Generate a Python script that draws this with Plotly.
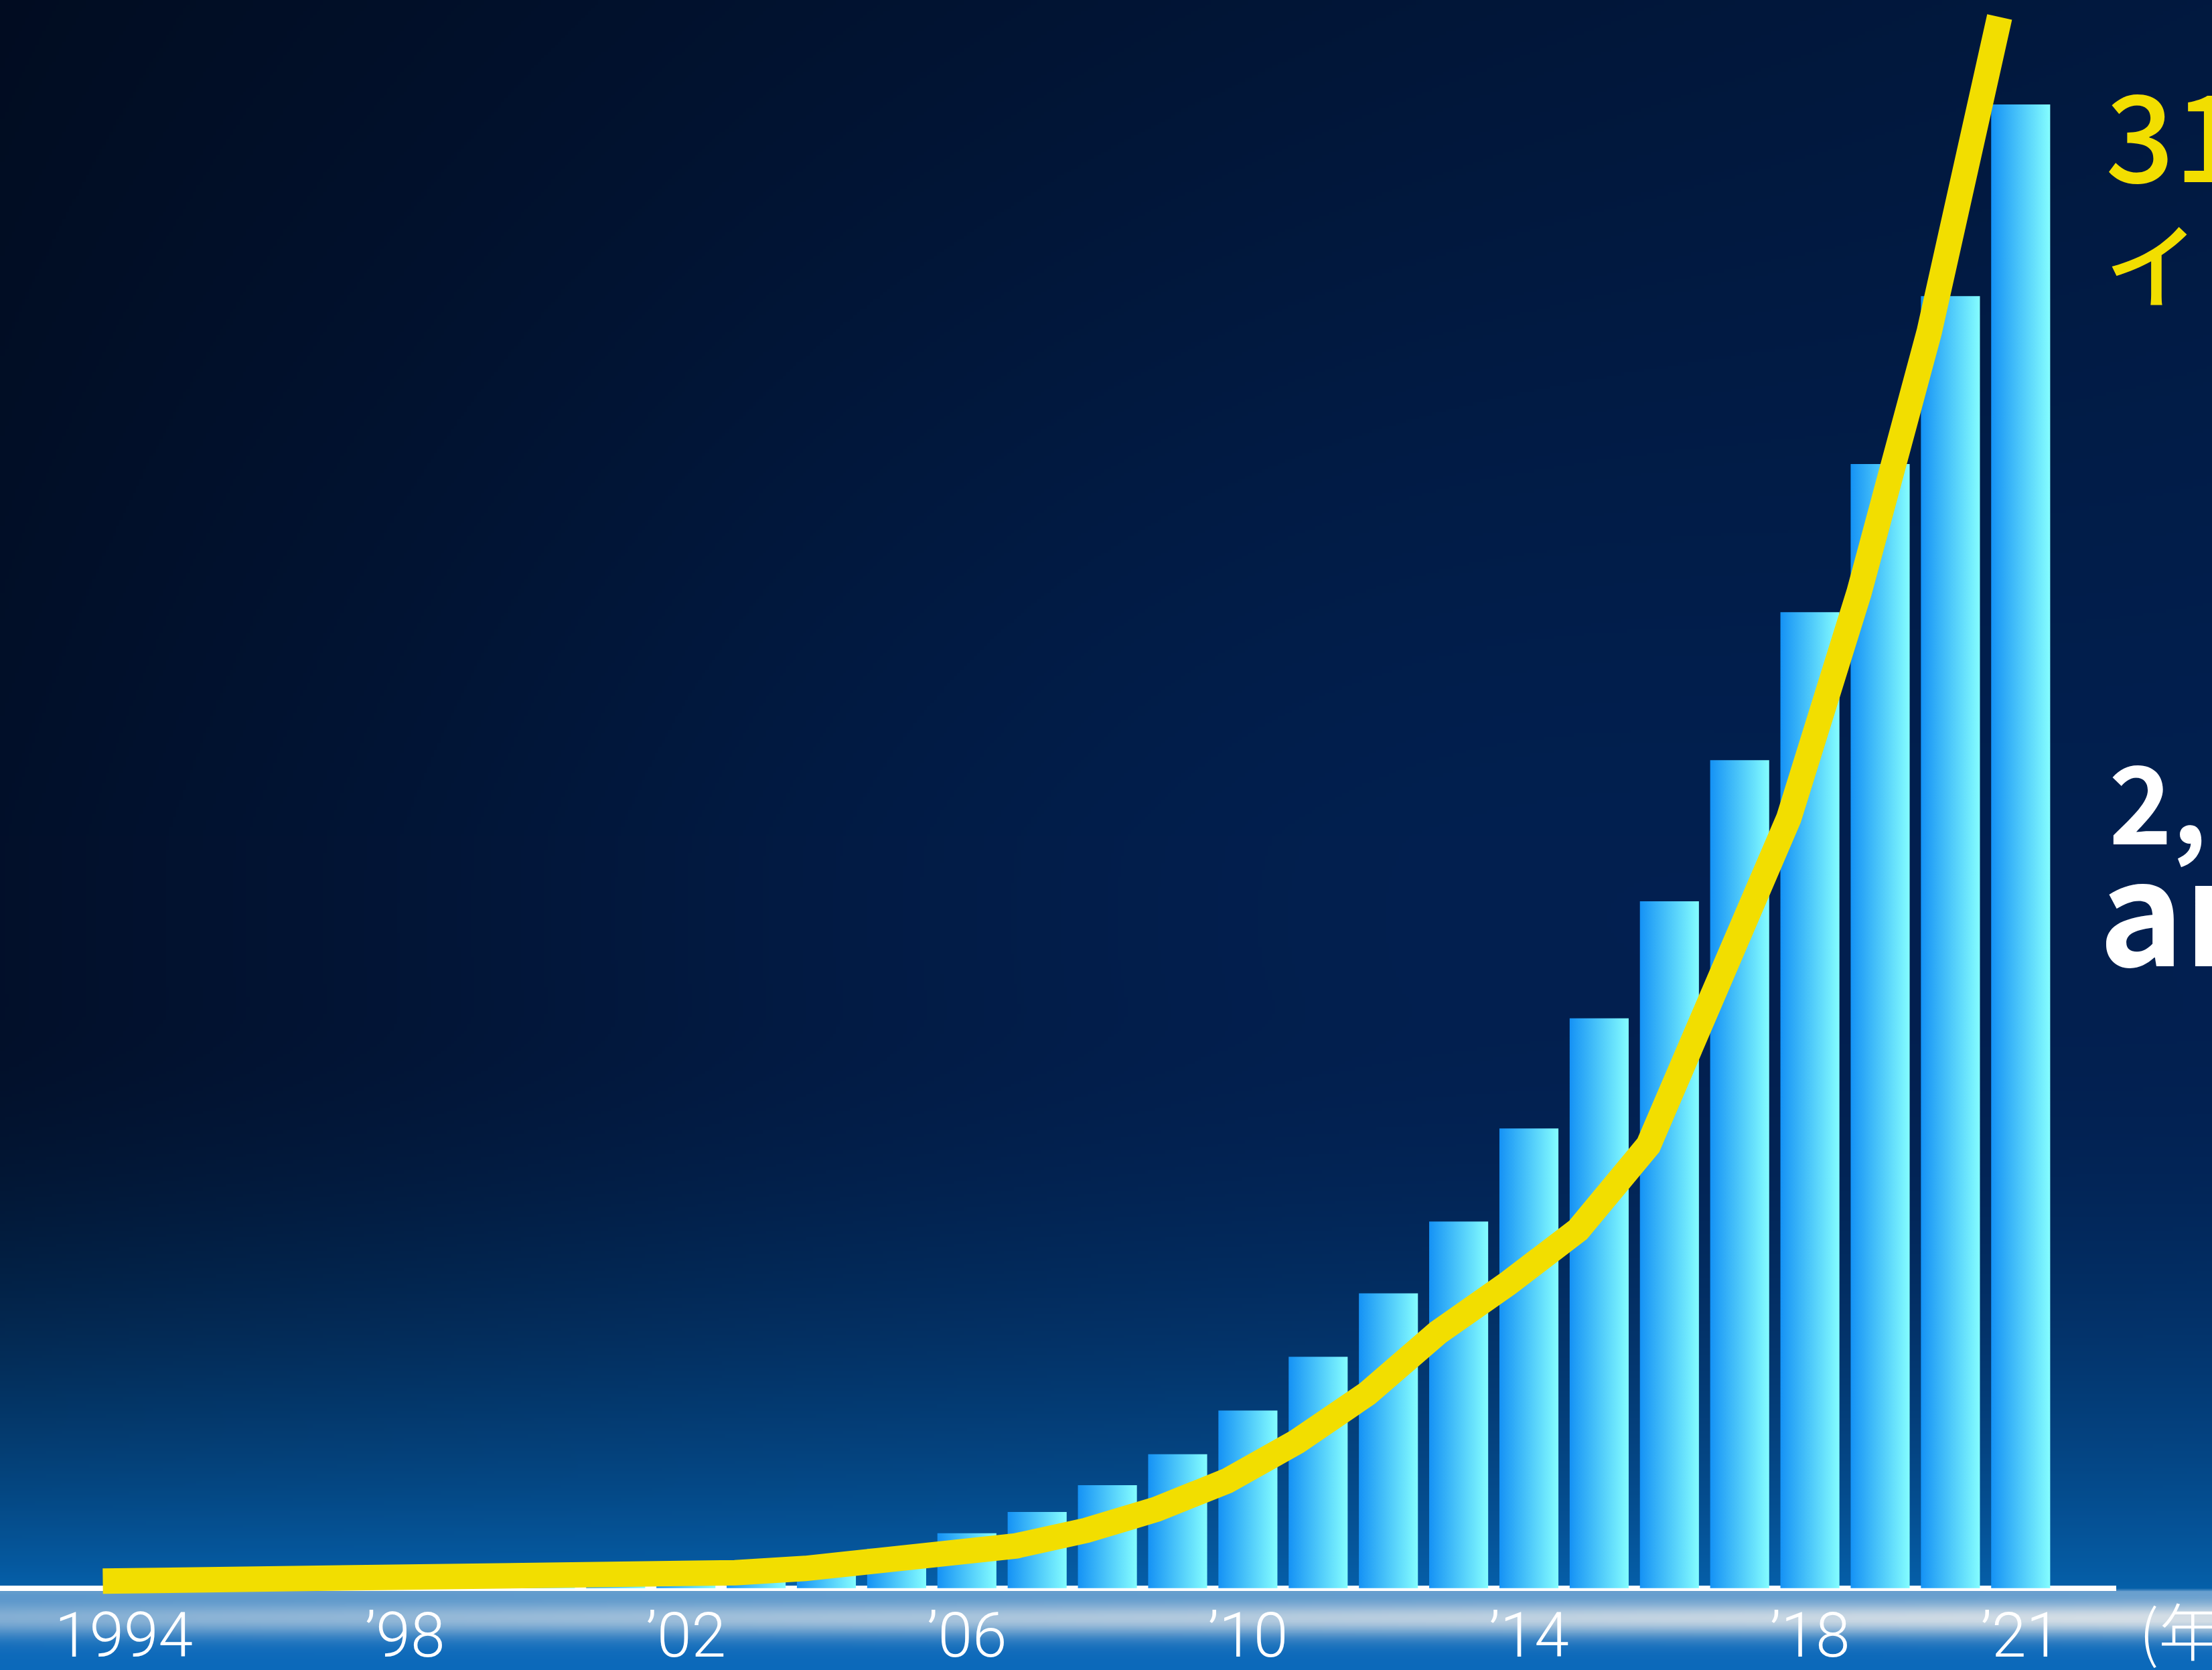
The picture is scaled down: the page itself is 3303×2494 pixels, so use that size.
import base64
import struct
import zlib

import numpy as np
import plotly.graph_objects as go

# ---------------- data ----------------
years = list(range(1994, 2022))
bar_values = [0.3, 0.5, 0.7, 1, 1.5, 2, 3, 4, 6, 9, 14, 28, 39, 54, 73, 95, 126,
              164, 209, 260, 326, 404, 487, 587, 692, 797, 916, 1052]
line_values = [5, 5.2, 5.5, 6, 6.5, 7, 7.5, 8, 9, 11, 14, 18, 23, 30, 41, 56, 76,
               104, 138, 181, 216, 254, 314, 431, 546, 706, 891, 1114]
tick_years = [1994, 1998, 2002, 2006, 2010, 2014, 2018, 2021]
tick_labels = ["1994", "’98", "’02", "’06", "’10", "’14", "’18", "’21"]

# ---------------- canvas ----------------
W, H = 3303, 2494
BASE_PX = 2372            # baseline position (px from top)
BAR_HALF = 0.42
LINE_SHIFT = -0.3
YELLOW = "#F2DE00"


def make_background(w=660, h=500):
    u = (np.arange(w) + 0.5) / w
    v = (np.arange(h) + 0.5) / h
    U, V = np.meshgrid(u, v)
    ypx = V * H
    left = np.array([2, 15, 40], float)
    right = np.array([2, 30, 76], float)
    f = (U ** 0.9)[..., None]
    col = left * (1 - f) + right * f
    col *= (0.82 + 0.18 * np.clip(V / 0.5, 0, 1))[..., None]
    rad = np.exp(-(((U - 0.55) ** 2) / 0.15 + ((V - 0.55) ** 2) / 0.2))
    col += rad[..., None] * np.array([0, 7, 16], float)
    vb = BASE_PX / H
    t = (np.clip((V - 0.60) / (vb - 0.60), 0, 1) ** 2.0)[..., None]
    glow = np.array([6, 96, 170], float)
    col = col * (1 - t) + glow * t
    # below baseline: light horizon band then bright blue
    d = ypx - (BASE_PX + 4)
    below = d > 0
    deep = np.array([10, 104, 186], float)
    light = np.array([212, 222, 230], float)
    amp = 0.5 + 0.42 * U
    band = amp * np.exp(-((d - 42) / 26.0) ** 2) + 0.42 * np.exp(-np.clip(d, 0, None) / 30.0)
    band = np.clip(band, 0, 1)[..., None]
    bcol = deep * (1 - band) + light * band
    col = np.where(below[..., None], bcol, col)
    arr = np.clip(col, 0, 255).astype(np.uint8)

    raw = b"".join(b"\x00" + arr[i].tobytes() for i in range(h))

    def chunk(tag, data):
        c = struct.pack(">I", len(data)) + tag + data
        return c + struct.pack(">I", zlib.crc32(tag + data) & 0xFFFFFFFF)

    png = (b"\x89PNG\r\n\x1a\n"
           + chunk(b"IHDR", struct.pack(">IIBBBBB", w, h, 8, 2, 0, 0, 0))
           + chunk(b"IDAT", zlib.compress(raw, 9))
           + chunk(b"IEND", b""))
    return "data:image/png;base64," + base64.b64encode(png).decode()


fig = go.Figure()

# gradient bars
for yr, val in zip(years, bar_values):
    x0, x1 = yr - BAR_HALF, yr + BAR_HALF
    fig.add_trace(go.Scatter(
        x=[x0, x1, x1, x0, x0], y=[0, 0, val, val, 0],
        mode="lines", fill="toself", line=dict(width=0),
        fillcolor="#4cc6fa",
        fillgradient=dict(type="horizontal", start=x0, stop=x1,
                          colorscale=[[0, "#1592f5"], [1, "#84fdff"]]),
        hoverinfo="skip", showlegend=False))

# yellow curve
fig.add_trace(go.Scatter(
    x=[y + LINE_SHIFT for y in years], y=line_values, mode="lines",
    line=dict(color=YELLOW, width=38), hoverinfo="skip", showlegend=False))

x_left = 1994 - 185 / 104.9
x_right = x_left + 3160 / 104.9
y_top = 1126
y_low = -58

fig.update_layout(
    width=W, height=H, autosize=False,
    margin=dict(l=0, r=0, t=0, b=0, pad=0, autoexpand=False),
    paper_bgcolor="#02163d", plot_bgcolor="rgba(0,0,0,0)",
    images=[dict(source=make_background(), xref="paper", yref="paper",
                 x=0, y=1, sizex=1, sizey=1, xanchor="left", yanchor="top",
                 sizing="stretch", layer="below")],
    xaxis=dict(range=[x_left, x_right], domain=[0, 3160 / W], anchor="free",
               position=(H - BASE_PX) / H, showgrid=False, zeroline=False,
               showline=True, linecolor="white", linewidth=8, layer="below traces",
               tickmode="array", tickvals=tick_years, ticktext=tick_labels,
               ticks="", ticklabelstandoff=-14,
               tickfont=dict(family="Roboto, Lato, sans-serif", size=93,
                             color="white", weight=300)),
    yaxis=dict(range=[y_low, y_top], visible=False, showgrid=False, zeroline=False),
    showlegend=False,
)

ann = [
    ("31", 3142, 194, 180, YELLOW, 500),
    ("イ", 3141, 389, 140, YELLOW, 500),
    ("2,", 3147, 1191, 160, "white", 600),
    ("ar", 3132, 1349, 215, "white", 700),
    ("(年)", 3192, 2432, 93, "white", 300),
]
for text, px, py, size, color, weight in ann:
    fig.add_annotation(
        text=text, xref="paper", yref="paper", x=px / W, y=1 - py / H,
        xanchor="left", yanchor="middle", showarrow=False,
        font=dict(family="Noto Sans CJK JP, Noto Sans, sans-serif", size=size,
                  color=color, weight=weight))

fig.write_html(
    "out.html",
    config={"displayModeBar": False},
    post_script="document.body.style.margin='0';"
                "document.documentElement.style.overflow='hidden';"
                "document.body.style.overflow='hidden';",
)
